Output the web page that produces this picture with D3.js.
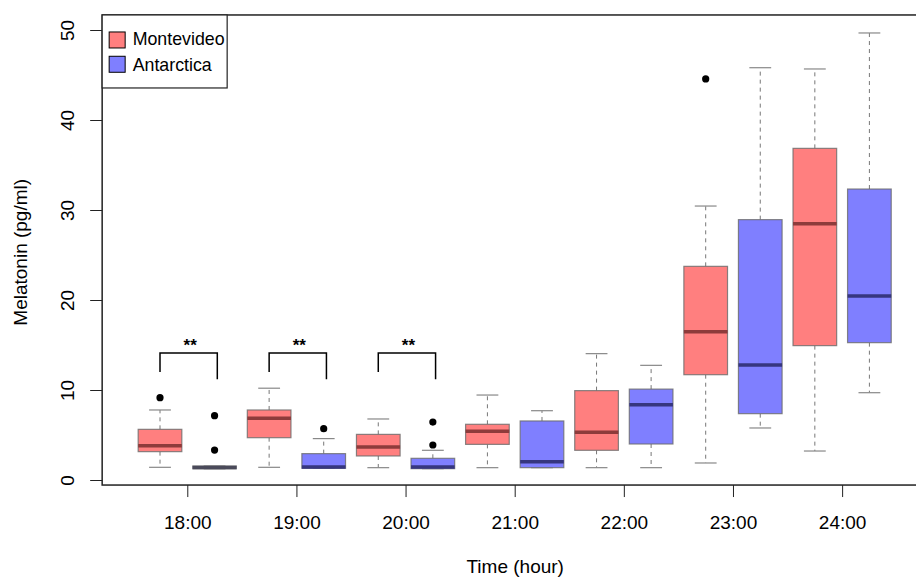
<!DOCTYPE html>
<meta charset="utf-8">
<style>
	body { margin: 0; background: #fff; }
	svg text { font-family: "Liberation Sans", Arial, sans-serif; fill: #000; }
</style>
<svg width="916" height="578"></svg>
<script src="https://d3js.org/d3.v7.min.js"></script>
<script>
	var hours = ['18:00', '19:00', '20:00', '21:00', '22:00', '23:00', '24:00']
	var groups = ['Montevideo', 'Antarctica']

	// [lower whisker, q1, median, q3, upper whisker]
	var montevideo = [
		[1.41, 3.15, 3.81, 5.63, 7.78],
		[1.41, 4.7, 6.85, 7.78, 10.2],
		[1.37, 2.67, 3.67, 5.07, 6.78],
		[1.37, 3.96, 5.41, 6.19, 9.44],
		[1.37, 3.3, 5.3, 9.93, 14.04],
		[1.89, 11.7, 16.48, 23.74, 30.44],
		[3.22, 14.93, 28.48, 36.85, 45.67]
	]
	var antarctica = [
		[1.25, 1.25, 1.4, 1.55, 1.55],
		[1.3, 1.3, 1.45, 2.93, 4.6],
		[1.26, 1.26, 1.44, 2.41, 3.3],
		[1.37, 1.37, 2.04, 6.56, 7.7],
		[1.37, 4.0, 8.37, 10.1, 12.74],
		[5.78, 7.37, 12.78, 28.93, 45.81],
		[9.7, 15.26, 20.44, 32.33, 49.67]
	]
	var montevideoOut = [[9.15], [], [], [], [], [44.56], []]
	var antarcticaOut = [[7.15, 3.33], [5.7], [6.44, 3.89], [], [], [], []]

	var yTicks = [0, 10, 20, 30, 40, 50]

	// significance brackets: hour index, top, left end, right end
	var sigHours = [0, 1, 2]
	var sigTop = [14.1, 14.1, 14.1]
	var sigLeft = [12.0, 12.0, 12.0]
	var sigRight = [11.2, 11.2, 11.2]
	var sigLabel = ['**', '**', '**']

	var fills = ['#ff7f7f', '#7f7fff'],
		medians = ['#8e3b3b', '#36367f']

	var svg = d3.select('svg')

	// position 1..14, two boxes per hour
	var x = d3.scaleLinear().domain([1, 14]).range([160, 869.4]),
		y = d3.scaleLinear().domain([0, 50]).range([480, 30])

	var xlim = [-0.06, 15.06], ylim = [-0.56, 51.67]
	var boxW = x(1.8) - x(1)

	var boxes = []
	hours.forEach(function (h, i) {
		boxes.push({ pos: 2 * i + 1, s: montevideo[i], out: montevideoOut[i], g: 0 })
		boxes.push({ pos: 2 * i + 2, s: antarctica[i], out: antarcticaOut[i], g: 1 })
	})

	var g = svg.append('g')

	var b = g.selectAll('.box').data(boxes).enter().append('g').attr('class', 'box')

	// whiskers
	b.append('line')
		.attr('x1', d => x(d.pos)).attr('x2', d => x(d.pos))
		.attr('y1', d => y(d.s[3])).attr('y2', d => y(d.s[4]))
		.attr('stroke', '#777').attr('stroke-dasharray', '4,4')
	b.append('line')
		.attr('x1', d => x(d.pos)).attr('x2', d => x(d.pos))
		.attr('y1', d => y(d.s[1])).attr('y2', d => y(d.s[0]))
		.attr('stroke', '#777').attr('stroke-dasharray', '4,4')
	b.selectAll('.cap').data(d => [[d.pos, d.s[0]], [d.pos, d.s[4]]]).enter().append('line')
		.attr('class', 'cap')
		.attr('x1', d => x(d[0]) - boxW / 4).attr('x2', d => x(d[0]) + boxW / 4)
		.attr('y1', d => y(d[1])).attr('y2', d => y(d[1]))
		.attr('stroke', '#888').attr('stroke-width', 1.2)

	b.append('rect')
		.attr('x', d => x(d.pos) - boxW / 2)
		.attr('width', boxW)
		.attr('y', d => y(d.s[3]))
		.attr('height', d => Math.max(y(d.s[1]) - y(d.s[3]), 0.5))
		.attr('fill', d => fills[d.g])
		.attr('stroke', '#6a6a6a').attr('stroke-opacity', 0.8).attr('stroke-width', 1.2)

	// a squashed box reads as grey in the original
	b.append('line')
		.attr('x1', d => x(d.pos) - boxW / 2).attr('x2', d => x(d.pos) + boxW / 2)
		.attr('y1', d => y(d.s[2])).attr('y2', d => y(d.s[2]))
		.attr('stroke', d => (d.s[3] - d.s[1] < 0.5) ? '#4a4a5a' : medians[d.g]).attr('stroke-width', 3.5)

	b.selectAll('.out').data(d => d.out.map(v => [d.pos, v])).enter().append('circle')
		.attr('class', 'out')
		.attr('cx', d => x(d[0])).attr('cy', d => y(d[1]))
		.attr('r', 3.6).attr('fill', '#000')

	// brackets
	sigHours.forEach(function (h, i) {
		var p0 = 2 * h + 1, p1 = 2 * h + 2.05
		g.append('path')
			.attr('d', d3.line()([[x(p0), y(sigLeft[i])], [x(p0), y(sigTop[i])], [x(p1), y(sigTop[i])], [x(p1), y(sigRight[i])]]))
			.attr('fill', 'none').attr('stroke', '#000').attr('stroke-width', 1.5)
		g.append('text')
			.attr('x', (x(p0) + x(p1)) / 2 + 1.5)
			.attr('y', y(sigTop[i]) - 2.5)
			.attr('text-anchor', 'middle')
			.style('font-size', '17px')
			.style('font-weight', 'bold')
			.text(sigLabel[i])
	})

	// frame
	svg.append('rect')
		.attr('x', x(xlim[0])).attr('y', y(ylim[1]))
		.attr('width', x(xlim[1]) - x(xlim[0]))
		.attr('height', y(ylim[0]) - y(ylim[1]))
		.attr('fill', 'none').attr('stroke', '#222').attr('stroke-width', 1.5)

	// axes
	var xAxis = svg.append('g')
		.attr('transform', 'translate(0,' + y(ylim[0]) + ')')
		.call(d3.axisBottom(x).tickValues(hours.map((h, i) => 2 * i + 1.5))
			.tickFormat((d, i) => hours[i]).tickSize(12).tickPadding(18))
	xAxis.select('.domain').remove()
	xAxis.selectAll('line').attr('stroke', '#222')
	xAxis.selectAll('text').style('font-size', '19px').attr('fill', '#000')

	var yAxis = svg.append('g')
		.attr('transform', 'translate(' + x(xlim[0]) + ',0)')
		.call(d3.axisLeft(y).tickValues(yTicks).tickSize(12).tickPadding(16))
	yAxis.select('.domain').remove()
	yAxis.selectAll('line').attr('stroke', '#222')
	yAxis.selectAll('text')
		.style('font-size', '19px').attr('fill', '#000')
		.attr('text-anchor', 'middle')
		.attr('dy', 0)
		.attr('x', 0)
		.attr('transform', 'translate(-28,0) rotate(-90)')

	svg.append('text')
		.attr('x', (x(1) + x(14)) / 2 + 0.5).attr('y', 573)
		.attr('text-anchor', 'middle').style('font-size', '19px')
		.text('Time (hour)')

	svg.append('text')
		.attr('transform', 'translate(27,' + y(25.3) + ') rotate(-90)')
		.attr('text-anchor', 'middle').style('font-size', '19px')
		.text('Melatonin (pg/ml)')

	// legend
	var lg = svg.append('g').attr('transform', 'translate(' + x(xlim[0]) + ',' + y(ylim[1]) + ')')
	lg.append('rect').attr('width', 125).attr('height', 73)
		.attr('fill', '#fff').attr('stroke', '#222').attr('stroke-width', 1.2)
	groups.forEach(function (name, i) {
		lg.append('rect')
			.attr('x', 7).attr('y', 17 + i * 24.3)
			.attr('width', 16).attr('height', 16)
			.attr('fill', fills[i]).attr('stroke', '#000').attr('stroke-width', 1)
		lg.append('text')
			.attr('x', 30.5).attr('y', 30.5 + i * 26)
			.style('font-size', '17.8px')
			.text(name)
	})
</script>
